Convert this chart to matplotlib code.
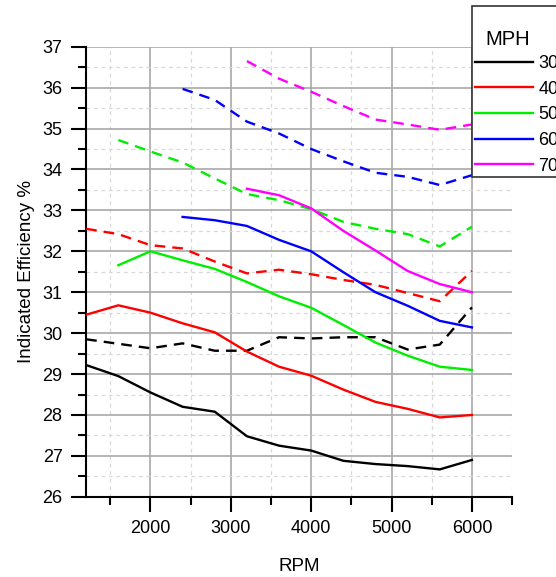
import matplotlib.pyplot as plt
from matplotlib.patches import Rectangle
from matplotlib.ticker import MultipleLocator

plt.rcParams['font.family'] = ['Liberation Sans', 'DejaVu Sans']

# RPM sample points
rpm = [1200, 1600, 2000, 2400, 2800, 3200, 3600, 4000, 4400, 4800, 5200, 5600, 6000]

# solid lines (one set of runs)
solid_30 = [29.22, 28.95, 28.55, 28.2, 28.08, 27.48, 27.25, 27.13, 26.88, 26.8, 26.75, 26.67, 26.9]
solid_40 = [30.45, 30.68, 30.5, 30.24, 30.02, 29.55, 29.18, 28.96, 28.62, 28.32, 28.15, 27.94, 28.0]
solid_50 = [None, 31.66, 32.0, 31.78, 31.57, 31.25, 30.9, 30.62, 30.2, 29.77, 29.45, 29.18, 29.1]
solid_60 = [None, None, None, 32.84, 32.76, 32.62, 32.28, 32.0, 31.49, 31.0, 30.67, 30.3, 30.14]
solid_70 = [None, None, None, None, None, 33.53, 33.37, 33.05, 32.5, 32.02, 31.52, 31.2, 31.0]

# dashed lines
dashed_30 = [29.85, 29.74, 29.63, 29.75, 29.57, 29.57, 29.9, 29.87, 29.9, 29.9, 29.6, 29.72, 30.63]
dashed_40 = [32.55, 32.42, 32.15, 32.07, 31.75, 31.46, 31.55, 31.44, 31.3, 31.18, 30.98, 30.78, 31.52]
dashed_50 = [None, 34.72, 34.44, 34.17, 33.78, 33.4, 33.25, 33.03, 32.72, 32.55, 32.42, 32.12, 32.6]
dashed_60 = [None, None, None, 35.97, 35.7, 35.17, 34.88, 34.5, 34.2, 33.92, 33.82, 33.62, 33.86]
dashed_70 = [None, None, None, None, None, 36.65, 36.22, 35.9, 35.55, 35.22, 35.1, 34.97, 35.1]

mph = ['30', '40', '50', '60', '70']
colors = ['black', 'red', '#00ee00', 'blue', 'magenta']
solids = [solid_30, solid_40, solid_50, solid_60, solid_70]
dashes = [dashed_30, dashed_40, dashed_50, dashed_60, dashed_70]

W, H = 556, 577


def clean(xs, ys):
    pts = [(x, y) for x, y in zip(xs, ys) if y is not None]
    return [p[0] for p in pts], [p[1] for p in pts]


fig = plt.figure(figsize=(W / 100, H / 100), dpi=100)
ax = fig.add_axes([0.155, 0.139, 0.766, 0.78])

handles = []
for label, c, s, d in zip(mph, colors, solids, dashes):
    x, y = clean(rpm, s)
    h, = ax.plot(x, y, color=c, lw=1.7, label=label, zorder=3)
    handles.append(h)
    x, y = clean(rpm, d)
    ax.plot(x, y, color=c, lw=1.7, ls=(0, (4.5, 3)), zorder=3)

ax.set_xlim(1200, 6500)
ax.set_ylim(26, 37)
ax.xaxis.set_major_locator(MultipleLocator(1000))
ax.xaxis.set_minor_locator(MultipleLocator(500))
ax.yaxis.set_major_locator(MultipleLocator(1))
ax.yaxis.set_minor_locator(MultipleLocator(0.5))

ax.grid(which='major', color='#a8a8a8', lw=1.2, zorder=0)
ax.grid(which='minor', color='#d8d8d8', lw=0.9, ls=(0, (3, 3)), zorder=0)
ax.set_axisbelow(True)

for side in ['top', 'right']:
    ax.spines[side].set_visible(False)
for side in ['left', 'bottom']:
    ax.spines[side].set_linewidth(1.5)

ax.tick_params(which='major', length=11, width=1.5, labelsize=13, pad=6)
ax.tick_params(which='minor', length=5.5, width=1.5)

ax.set_xlabel('RPM', fontsize=13.5, labelpad=15)
ax.set_ylabel('Indicated Efficiency %', fontsize=13.5, labelpad=5)

# legend box runs off the right edge, like the original
box = Rectangle((472 / W, 1 - 177 / H), 0.3, (177 - 6) / H,
                transform=fig.transFigure, facecolor='white',
                edgecolor='#333333', lw=1.2, zorder=5)
fig.add_artist(box)
fig.text(485 / W, 1 - 45 / H, 'MPH', fontsize=14.5, va='baseline',
         zorder=6)
leg = fig.legend(handles=handles, loc='upper left',
                 bbox_to_anchor=(475 / W, 1 - 55 / H), fontsize=13,
                 frameon=False, handlelength=3.2, handletextpad=0.3,
                 labelspacing=0.48, borderpad=0, borderaxespad=0)
leg.set_zorder(7)

fig.savefig('out.png', dpi=100)
